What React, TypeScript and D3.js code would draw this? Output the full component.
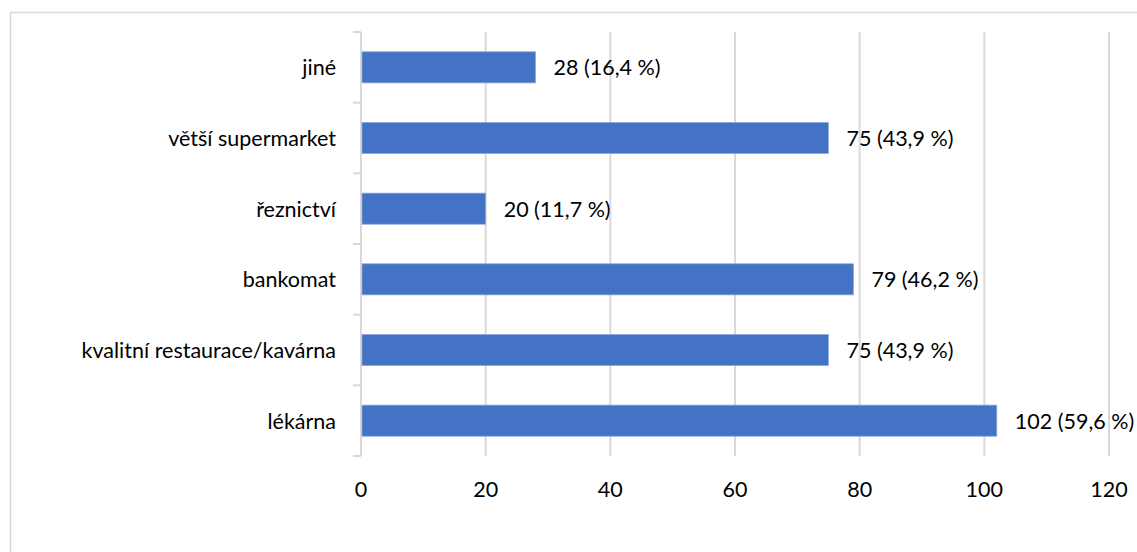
import React, { useEffect } from "react";
import * as d3 from "d3";

const categories = ["jiné", "větší supermarket", "řeznictví", "bankomat", "kvalitní restaurace/kavárna", "lékárna"];
const counts = [28, 75, 20, 79, 75, 102];
const percents = ["16,4", "43,9", "11,7", "46,2", "43,9", "59,6"];
const xTicks = [0, 20, 40, 60, 80, 100, 120];

const W = 1137;
const H = 552;
const FONT = "Lato, 'Open Sans', sans-serif";
const FS = 21.5;

export default function App() {
  useEffect(() => {
    document.body.style.margin = "0";
  }, []);

  const x = d3.scaleLinear().domain([0, 120]).range([361, 1109]);
  const y = d3.scaleBand().domain(categories).range([32, 456]).paddingInner(0.56).paddingOuter(0.28);
  const yOuter = d3.scaleBand().domain(categories).range([32, 456]);

  return (
    <svg width={W} height={H} style={{ display: "block", background: "#fff" }}>
      <line x1={10.5} y1={12.5} x2={W} y2={12.5} stroke="#d9d9d9" strokeWidth={1.5} />
      <line x1={10.5} y1={12.5} x2={10.5} y2={H} stroke="#d9d9d9" strokeWidth={1.5} />
      {xTicks.filter((t) => t > 0).map((t) => (
        <line key={t} x1={x(t)} x2={x(t)} y1={32} y2={456} stroke="#d9d9d9" strokeWidth={2} />
      ))}
      <line x1={x(0)} x2={x(0)} y1={32} y2={456} stroke="#d9d9d9" strokeWidth={2} />
      {[...categories.map((c) => yOuter(c) as number), 456].map((v, i) => (
        <line key={i} x1={353} x2={x(0)} y1={v} y2={v} stroke="#d9d9d9" strokeWidth={2} />
      ))}
      {categories.map((c, i) => (
        <g key={c}>
          <rect
            x={x(0) + 1}
            y={y(c)}
            width={x(counts[i]) - x(0) - 1}
            height={y.bandwidth()}
            fill="#4472c4"
            stroke="#8fa9dc"
            strokeWidth={0.75}
          />
          <text
            x={336}
            y={(y(c) as number) + y.bandwidth() / 2}
            textAnchor="end"
            dominantBaseline="central"
            fontFamily={FONT}
            fontSize={FS}
            fill="#000"
          >
            {c}
          </text>
          <text
            x={x(counts[i]) + 18}
            y={(y(c) as number) + y.bandwidth() / 2}
            dominantBaseline="central"
            fontFamily={FONT}
            fontSize={FS}
            fill="#000"
          >
            {`${counts[i]} (${percents[i]} %)`}
          </text>
        </g>
      ))}
      {xTicks.map((t) => (
        <text
          key={t}
          x={x(t)}
          y={489}
          textAnchor="middle"
          dominantBaseline="central"
          fontFamily={FONT}
          fontSize={FS}
          fill="#000"
        >
          {t}
        </text>
      ))}
    </svg>
  );
}
